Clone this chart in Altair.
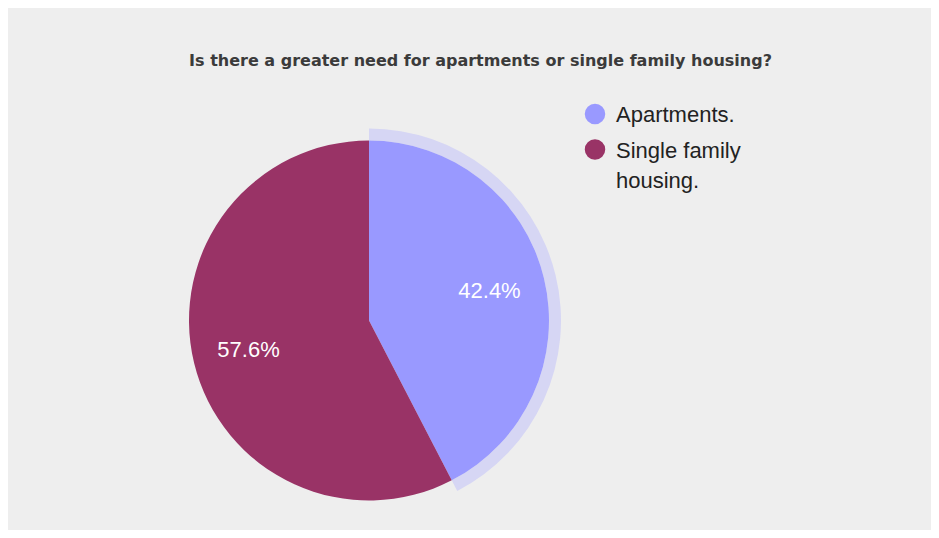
import altair as alt
import pandas as pd

# ---- data ----
categories = ["Apartments.", "Single family housing."]
values = [42.4, 57.6]
legend_labels = ["Apartments.", "Single family\nhousing."]
order_idx = [0, 1]
title_text = "Is there a greater need for apartments or single family housing?"
colors = ["#9999ff", "#993366"]

df = pd.DataFrame({"category": categories, "value": values, "idx": order_idx,
                   "legend": legend_labels})

CX, CY, R = 361, 312.5, 180

color_scale = alt.Scale(domain=categories, range=colors)

base = alt.Chart(df).transform_joinaggregate(
    total="sum(value)"
).transform_calculate(
    pct="format(datum.value / datum.total, '.1%')"
).encode(
    theta=alt.Theta("value:Q", stack=True),
    order=alt.Order("idx:Q"),
)

ring = base.mark_arc(x=CX, y=CY, innerRadius=R, outerRadius=R + 12, fill="#d6d6f4").encode(
    opacity=alt.condition(alt.datum.category == categories[0], alt.value(1), alt.value(0))
)

pie = base.mark_arc(x=CX, y=CY, outerRadius=R).encode(
    color=alt.Color("category:N", scale=color_scale, legend=None)
)

labels = base.mark_text(x=CX, y=CY, radius=124, font="Liberation Sans", fontSize=22,
                        color="white").encode(text="pct:N")

leg_y = alt.Y("idx:Q", scale=alt.Scale(domain=[0, 1], range=[106, 141.5]), axis=None)

leg_pts = alt.Chart(df).mark_point(shape="circle", filled=True, size=420, opacity=1).encode(
    x=alt.value(587),
    y=leg_y,
    color=alt.Color("category:N", scale=color_scale, legend=None),
)

leg_txt = alt.Chart(df).mark_text(align="left", baseline="alphabetic", dy=8,
                                  font="Liberation Sans", fontSize=22, color="#222222",
                                  lineBreak="\n", lineHeight=30).encode(
    x=alt.value(608),
    y=leg_y,
    text="legend:N",
)

chart = alt.layer(ring, pie, labels, leg_pts, leg_txt).properties(
    width=923,
    height=522,
    autosize=alt.AutoSizeParams(type="none"),
    padding=0,
    background="#eeeeee",
    title=alt.TitleParams(title_text, font="DejaVu Sans", fontSize=16, fontWeight="bold",
                          color="#3b3b3b", anchor="middle", dx=11, offset=-69,
                          baseline="middle"),
).configure_view(stroke=None)

chart.save("out.html", embed_options={"renderer": "svg", "actions": False})
